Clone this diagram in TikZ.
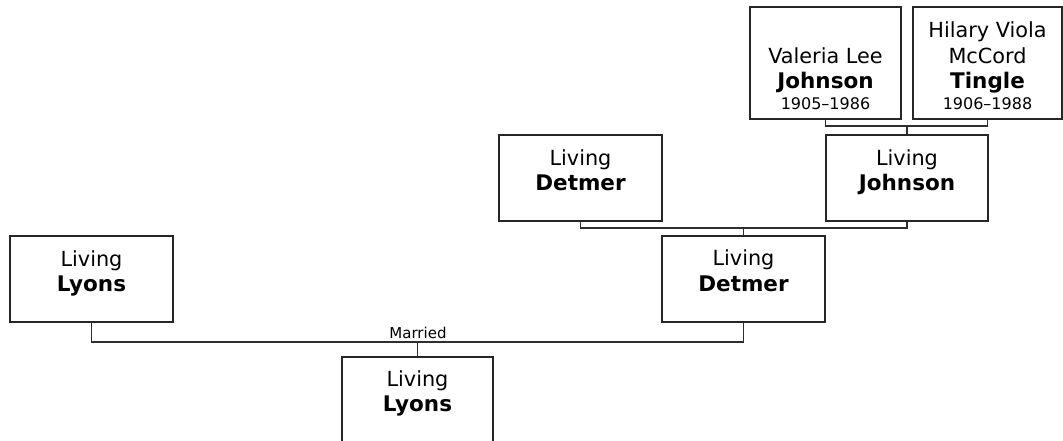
\documentclass[tikz,border=0pt]{standalone}
\usepackage{fontspec}
\setmainfont{DejaVu Sans}
\begin{document}
\begin{tikzpicture}[x=1pt,y=-1pt,
  box/.style={draw=black!85,line width=1.8pt,inner sep=0pt,fill=white},
  conn/.style={draw=black!82,line width=1.9pt},
  nm/.style={anchor=base,inner sep=0pt,font=\fontsize{20.8}{24}\selectfont},
  bd/.style={anchor=base,inner sep=0pt,font=\fontsize{21.5}{24}\selectfont\bfseries},
  dt/.style={anchor=base,inner sep=0pt,font=\fontsize{16}{18}\selectfont},
  lb/.style={anchor=base,inner sep=0pt,font=\fontsize{15}{16}\selectfont}]
\useasboundingbox (0,0) rectangle (1063,440);
% boxes
\node[box,minimum width=151pt,minimum height=112pt] (V) at (825.5,63) {};
\node[box,minimum width=149pt,minimum height=112pt] (H) at (987.5,63) {};
\node[box,minimum width=162pt,minimum height=86pt] (J) at (907,178) {};
\node[box,minimum width=163pt,minimum height=86pt] (Dt) at (580.5,178) {};
\node[box,minimum width=163pt,minimum height=86pt] (Dl) at (743.5,279) {};
\node[box,minimum width=163pt,minimum height=86pt] (Lt) at (91.5,279) {};
\node[box,minimum width=151pt,minimum height=100pt] (Lb) at (417.5,407) {};
% texts
\node[nm] (v1) at (825.5,63) {Valeria Lee};
\node[bd] (v2) at (825.5,88) {Johnson};
\node[dt] (v3) at (825.5,109) {1905–1986};
\node[nm] (h1) at (987.5,37) {Hilary Viola};
\node[nm] (h2) at (987.5,63) {McCord};
\node[bd] (h3) at (987.5,88) {Tingle};
\node[dt] (h4) at (987.5,109) {1906–1988};
\node[nm] (j1) at (907,165) {Living};
\node[bd] (j2) at (907,190) {Johnson};
\node[nm] (dt1) at (580.5,165) {Living};
\node[bd] (dt2) at (580.5,190) {Detmer};
\node[nm] (dl1) at (743.5,265) {Living};
\node[bd] (dl2) at (743.5,291) {Detmer};
\node[nm] (lt1) at (91.5,266) {Living};
\node[bd] (lt2) at (91.5,291) {Lyons};
\node[nm] (lb1) at (417.5,386) {Living};
\node[bd] (lb2) at (417.5,411) {Lyons};
% connectors
\coordinate (m1) at (907,126);
\coordinate (m2) at (743.5,228);
\coordinate (m3) at (417.5,342);
\draw[conn] (V.south) |- (m1) -| (H.south);
\draw[conn] (m1) -- (J.north);
\draw[conn] (Dt.south) |- (m2) -| (J.south);
\draw[conn] (m2) -- (Dl.north);
\draw[conn] (Lt.south) |- (m3) -| (Dl.south);
\draw[conn] (m3) -- (Lb.north);
\node[lb] (mar) at (418,338) {Married};
\end{tikzpicture}
\end{document}
